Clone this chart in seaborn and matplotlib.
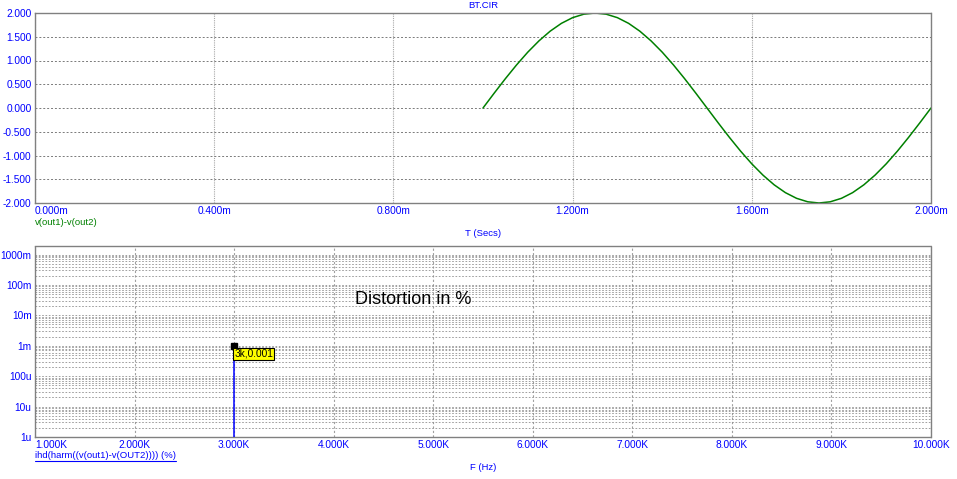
import numpy as np
import matplotlib
matplotlib.use('Agg')
import matplotlib.pyplot as plt
import seaborn as sns
import pandas as pd
from matplotlib.ticker import FixedLocator, FuncFormatter, LogLocator, NullFormatter
from matplotlib.lines import Line2D

sns.set_style('white')
plt.rcParams['font.family'] = ['Liberation Sans', 'DejaVu Sans']

fs = 7.3
fs_lab = 6.8
blue = '#0000ff'
green = '#008000'
grid_c = '#909090'

# transient: v(out1)-v(out2), every 0.025 ms
time_ms = [1.000, 1.025, 1.050, 1.075, 1.100, 1.125, 1.150, 1.175, 1.200, 1.225,
           1.250, 1.275, 1.300, 1.325, 1.350, 1.375, 1.400, 1.425, 1.450, 1.475,
           1.500, 1.525, 1.550, 1.575, 1.600, 1.625, 1.650, 1.675, 1.700, 1.725,
           1.750, 1.775, 1.800, 1.825, 1.850, 1.875, 1.900, 1.925, 1.950, 1.975, 2.000]
vdiff = [0.000, 0.313, 0.618, 0.908, 1.176, 1.414, 1.618, 1.782, 1.902, 1.975,
         2.000, 1.975, 1.902, 1.782, 1.618, 1.414, 1.176, 0.908, 0.618, 0.313,
         0.000, -0.313, -0.618, -0.908, -1.176, -1.414, -1.618, -1.782, -1.902, -1.975,
         -2.000, -1.975, -1.902, -1.782, -1.618, -1.414, -1.176, -0.908, -0.618, -0.313, 0.000]

# harmonic distortion
harm_freq = [3000]
harm_thd = [0.001]

t_ticks = [0.0, 0.4, 0.8, 1.2, 1.6, 2.0]
v_ticks = [-2.0, -1.5, -1.0, -0.5, 0.0, 0.5, 1.0, 1.5, 2.0]
f_ticks = [1000, 2000, 3000, 4000, 5000, 6000, 7000, 8000, 9000, 10000]
d_ticks = [1e-6, 1e-5, 1e-4, 1e-3, 1e-2, 1e-1, 1.0]
d_labels = ['1u', '10u', '100u', '1m', '10m', '100m', '1000m']

W, H = 957, 479
fig = plt.figure(figsize=(W / 100, H / 100), dpi=100)


def px_axes(x0, y0, x1, y1):
    return fig.add_axes([x0 / W, 1 - y1 / H, (x1 - x0) / W, (y1 - y0) / H])


ax1 = px_axes(35, 13, 931, 203)
ax2 = px_axes(35, 246, 931, 437)

for ax in (ax1, ax2):
    for sp in ax.spines.values():
        sp.set_color('#808080')
        sp.set_linestyle((0, (1, 1)))
        sp.set_linewidth(1)
    ax.tick_params(length=0, labelsize=fs, labelcolor=blue, pad=2.5)

# top: transient
df = pd.DataFrame({'t': time_ms, 'v': vdiff})
sns.lineplot(data=df, x='t', y='v', ax=ax1, color=green, lw=1.1)
ax1.set_xlim(0, 2.0)
ax1.set_ylim(-2.0, 2.0)
ax1.xaxis.set_major_locator(FixedLocator(t_ticks))
ax1.yaxis.set_major_locator(FixedLocator(v_ticks))
ax1.xaxis.set_major_formatter(FuncFormatter(lambda x, p: f'{x:.3f}m'))
ax1.yaxis.set_major_formatter(FuncFormatter(lambda y, p: f'{y:.3f}'))
ax1.set_xlabel('')
ax1.set_ylabel('')
ax1.grid(True, axis='y', color='#7a7a7a', ls=(0, (2, 2)), lw=0.7)
ax1.grid(True, axis='x', color='#a8a8a8', ls=(0, (1, 1)), lw=0.8)

# bottom: distortion
ax2.set_yscale('log')
ax2.vlines(harm_freq, 1e-6, harm_thd, color=blue, lw=1.1, zorder=3)
ax2.plot(harm_freq, harm_thd, 's', color='black', ms=4, zorder=4)
ax2.set_xlim(1000, 10000)
ax2.set_ylim(1e-6, 10 ** 0.28)
ax2.xaxis.set_major_locator(FixedLocator(f_ticks))
ax2.xaxis.set_major_formatter(FuncFormatter(lambda x, p: f'{x / 1000:.3f}K'))
ax2.yaxis.set_major_locator(FixedLocator(d_ticks))
ax2.yaxis.set_major_formatter(FuncFormatter(lambda y, p: d_labels[d_ticks.index(min(d_ticks, key=lambda d: abs(np.log10(d) - np.log10(y))))]))
ax2.yaxis.set_minor_locator(LogLocator(base=10, subs=np.arange(2, 10), numticks=20))
ax2.yaxis.set_minor_formatter(NullFormatter())
ax2.tick_params(which='minor', length=0)
ax2.grid(True, axis='y', which='both', color=grid_c, ls=(0, (2, 2)), lw=0.6)
ax2.grid(True, axis='x', color='#a0a0a0', ls=(0, (2, 2)), lw=0.8)
ax2.annotate(f'{harm_freq[0] // 1000}k,{harm_thd[0]:g}', xy=(harm_freq[0], harm_thd[0]),
             xytext=(0, -2), textcoords='offset points', ha='left', va='top',
             fontsize=fs, color='black', zorder=5,
             bbox=dict(boxstyle='square,pad=0.1', fc='#ffff00', ec='black', lw=0.8))
ax2.text(0.357, 0.72, 'Distortion in %', transform=ax2.transAxes, fontsize=13,
         color='black', ha='left', va='center')

# first x tick label sits left-aligned at the frame
for ax in (ax1, ax2):
    labs = ax.get_xticklabels()
    labs[0].set_ha('left')

# figure texts
fig.text(483 / W, 1 - 6 / H, 'BT.CIR', fontsize=fs_lab, color=blue, ha='center', va='center')
fig.text(35 / W, 1 - 222 / H, 'v(out1)-v(out2)', fontsize=fs_lab, color=green, ha='left', va='center')
fig.text(483 / W, 1 - 233 / H, 'T (Secs)', fontsize=fs_lab, color=blue, ha='center', va='center')
leg = fig.text(35 / W, 1 - 455 / H, 'ihd(harm((v(out1)-v(OUT2)))) (%)', fontsize=fs_lab,
               color=blue, ha='left', va='center')
fig.text(483 / W, 1 - 468 / H, 'F (Hz)', fontsize=fs_lab, color=blue, ha='center', va='center')

# underline the trace name
fig.canvas.draw()
bb = leg.get_window_extent()
y_ul = bb.y0 - 1
fig.add_artist(Line2D([bb.x0 / W, bb.x1 / W], [y_ul / H, y_ul / H], color=blue, lw=0.8,
                      transform=fig.transFigure))

fig.savefig('out.png', dpi=100)
